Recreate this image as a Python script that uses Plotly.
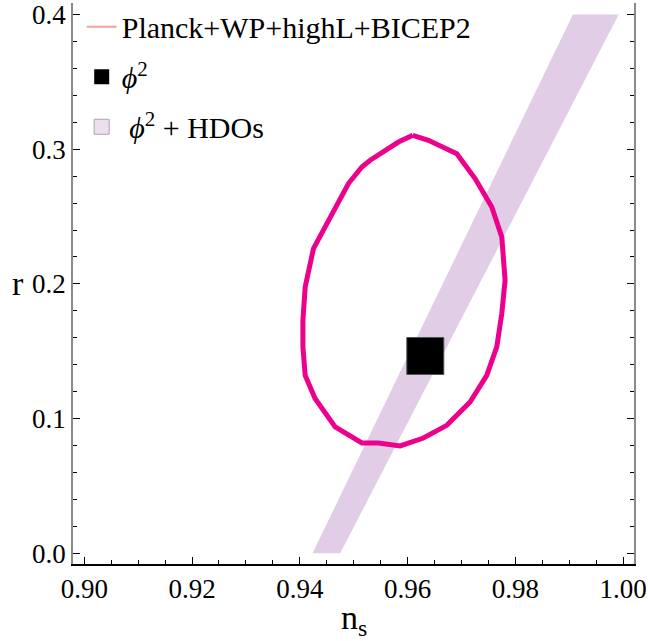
import plotly.graph_objects as go

# ---- data ----
contour_ns = [0.96098, 0.95831, 0.95306, 0.95152, 0.94903, 0.94254, 0.94100, 0.94058,
              0.94058, 0.94100, 0.94286, 0.94657, 0.95152, 0.95460, 0.95863, 0.96295,
              0.96729, 0.97161, 0.97471, 0.97657, 0.97750, 0.97811, 0.97750, 0.97564,
              0.97254, 0.96915, 0.96388, 0.96098]
contour_r = [0.3103, 0.3053, 0.2918, 0.2868, 0.2745, 0.2262, 0.1977, 0.1730,
             0.1532, 0.1321, 0.1148, 0.0938, 0.0819, 0.0819, 0.0797, 0.0856,
             0.0950, 0.1123, 0.1321, 0.1532, 0.1780, 0.2027, 0.2348, 0.2571,
             0.2782, 0.2967, 0.3066, 0.3103]

band_ns = [0.94236, 0.94750, 0.99920, 0.99070, 0.94236]
band_r = [0.0, 0.0, 0.4, 0.4, 0.0]

phi2_ns = [0.9633]
phi2_r = [0.1465]

x_ticks = [0.90, 0.92, 0.94, 0.96, 0.98, 1.00]
y_ticks = [0.0, 0.1, 0.2, 0.3, 0.4]

names = ["Planck+WP+highL+BICEP2", "<i>ϕ</i><sup>2</sup>", "\u00a0<i>ϕ</i><sup>2</sup> + HDOs"]
x_title = "n<sub>s</sub>"
y_title = "r"

FONT = "Liberation Serif, Times New Roman, serif"
GRAY = "#8a8a8a"
MAGENTA = "#EC008C"
BAND = "rgb(226,205,230)"

fig = go.Figure()

fig.add_trace(go.Scatter(x=band_ns, y=band_r, mode="lines", fill="toself",
                         fillcolor=BAND, line=dict(width=0, color=BAND),
                         showlegend=False, hoverinfo="skip"))
fig.add_trace(go.Scatter(x=contour_ns, y=contour_r, mode="lines",
                         line=dict(color=MAGENTA, width=5), showlegend=False))
fig.add_trace(go.Scatter(x=phi2_ns, y=phi2_r, mode="markers",
                         marker=dict(symbol="square", size=37, color="black",
                                     line=dict(color="#555555", width=1)),
                         showlegend=False))

# legend entries
fig.add_trace(go.Scatter(x=[None], y=[None], mode="lines", name=names[0],
                         line=dict(color="#F4A0A0", width=2), legendgroup="a"))
fig.add_trace(go.Scatter(x=[None], y=[None], mode="markers", name=names[1],
                         marker=dict(symbol="square", size=15, color="black"),
                         legendgroup="b"))
fig.add_trace(go.Scatter(x=[None], y=[None], mode="markers", name=names[2],
                         marker=dict(symbol="square", size=15, color="#EEDFF0",
                                     line=dict(color="#B0A0B3", width=1)),
                         legendgroup="c"))

tickfont = dict(family=FONT, size=27, color="black")

fig.update_layout(
    width=648, height=641,
    margin=dict(l=73, r=14, t=3, b=77, autoexpand=False),
    paper_bgcolor="white", plot_bgcolor="white",
    font=dict(family=FONT, size=26, color="black"),
    showlegend=True,
    legend=dict(x=0.0155, y=1.004, xanchor="left", yanchor="top",
                bgcolor="rgba(0,0,0,0)", font=dict(family=FONT, size=30, color="black"),
                tracegroupgap=8),
    xaxis=dict(range=[0.8979, 1.00204], tickvals=x_ticks, tickformat=".2f",
               tickfont=tickfont, automargin=False, ticklabeloverflow="allow",
               ticks="inside", ticklen=7, tickcolor="black", tickwidth=1,
               minor=dict(dtick=0.005, tick0=0.9, ticks="inside", ticklen=4,
                          tickcolor="black"),
               showline=True, linecolor="black", linewidth=1.5, mirror=False,
               showgrid=False, zeroline=False),
    xaxis2=dict(range=[0.8979, 1.00204], overlaying="x", side="top", anchor="y",
                tickvals=x_ticks, showticklabels=False, automargin=False,
                ticks="inside", ticklen=7, tickcolor="black",
                minor=dict(dtick=0.005, tick0=0.9, ticks="inside", ticklen=4,
                           tickcolor="black"),
                showline=True, linecolor=GRAY, linewidth=1.5,
                showgrid=False, zeroline=False),
    yaxis=dict(range=[-0.00794, 0.40854], tickvals=y_ticks, tickformat=".1f",
               tickfont=tickfont, automargin=False, ticklabeloverflow="allow",
               ticks="inside", ticklen=7, tickcolor="black",
               minor=dict(dtick=0.02, tick0=0, ticks="inside", ticklen=4,
                          tickcolor="black"),
               showline=True, linecolor=GRAY, linewidth=1.5, mirror="ticks",
               showgrid=False, zeroline=False),
    annotations=[
        dict(text=x_title, xref="paper", yref="paper", x=0.5, y=-0.10,
             xanchor="center", yanchor="middle", showarrow=False,
             font=dict(family=FONT, size=34, color="black")),
        dict(text=y_title, xref="paper", yref="paper", x=-0.098, y=0.5,
             xanchor="center", yanchor="middle", showarrow=False,
             font=dict(family=FONT, size=34, color="black")),
    ],
)

fig.write_html("out.html", config={"displayModeBar": False},
               post_script="document.body.style.margin='0';")
